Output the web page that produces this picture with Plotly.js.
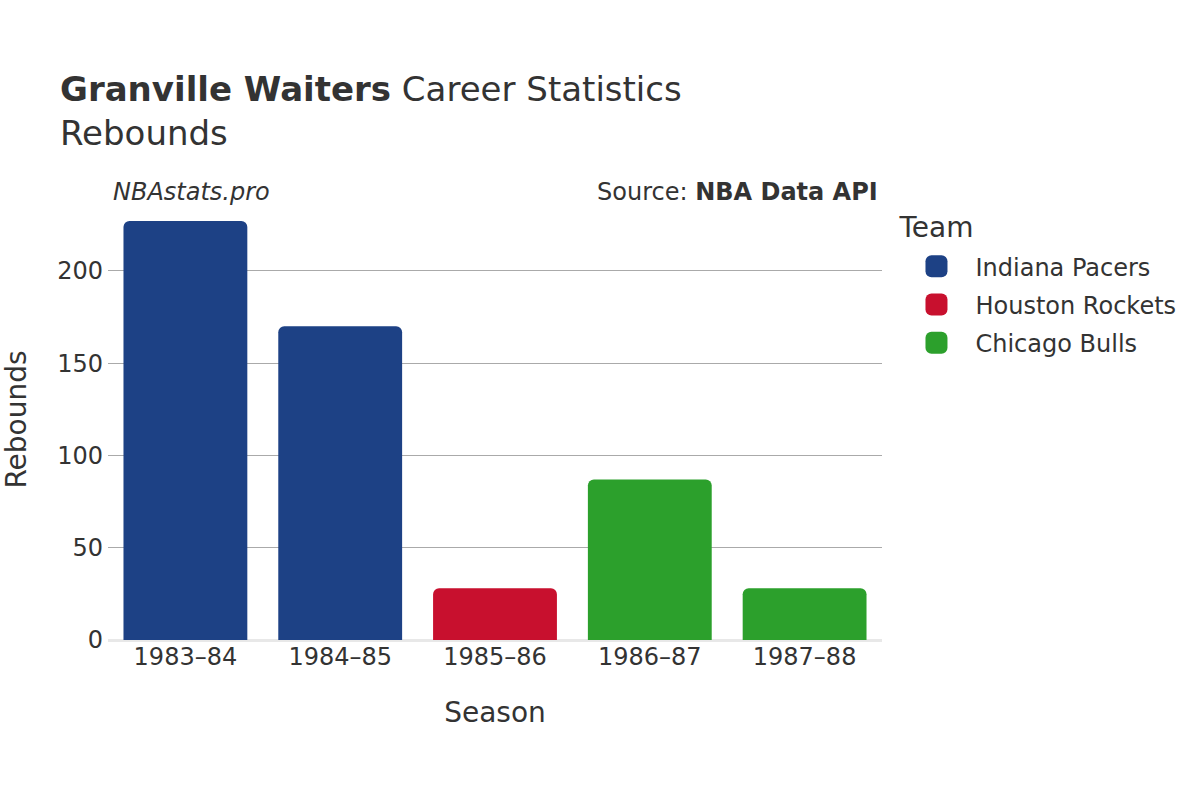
<!DOCTYPE html>
<html>
<head>
<meta charset="utf-8">
<script src="https://cdn.plot.ly/plotly-3.0.1.min.js"></script>
<style>html,body{margin:0;padding:0;background:#fff;}#chart{width:1200px;height:800px;}</style>
</head>
<body>
<div id="chart"></div>
<script>
const seasons = ['1983–84', '1984–85', '1985–86', '1986–87', '1987–88'];
const rebounds = [227, 170, 28, 87, 28];
const seasonTeams = ['Indiana Pacers', 'Indiana Pacers', 'Houston Rockets', 'Chicago Bulls', 'Chicago Bulls'];
const teamNames = ['Indiana Pacers', 'Houston Rockets', 'Chicago Bulls'];
const teamColors = ['#1d4185', '#c8102e', '#2ca02c'];

const FONT = 'DejaVu Sans, sans-serif';
const TXT = '#333333';

const traces = teamNames.map((team, i) => {
  const xs = [], ys = [];
  seasons.forEach((s, j) => { if (seasonTeams[j] === team) { xs.push(s); ys.push(rebounds[j]); } });
  return {
    type: 'bar', name: team, x: xs, y: ys, legendgroup: 'g' + i,
    marker: { color: teamColors[i], cornerradius: 6 },
    hoverinfo: 'x+y+name'
  };
});

const layout = {
  width: 1200, height: 800,
  paper_bgcolor: '#ffffff', plot_bgcolor: '#ffffff',
  font: { family: FONT, color: TXT, size: 24 },
  margin: { l: 108, r: 318, t: 199, b: 160 },
  barmode: 'relative',
  bargap: 0.2,
  title: {
    text: '<b>Granville Waiters</b> Career Statistics<br>Rebounds',
    x: 0.05, xanchor: 'left', y: 0.874, yanchor: 'top',
    font: { family: FONT, size: 34, color: TXT }
  },
  xaxis: {
    type: 'category', categoryorder: 'array', categoryarray: seasons,
    title: { text: 'Season', font: { size: 28, color: TXT }, standoff: 32 },
    tickfont: { size: 24, color: TXT },
    showgrid: false, showline: false, ticks: ''
  },
  yaxis: {
    title: { text: 'Rebounds', font: { size: 28, color: TXT }, standoff: 24 },
    tickfont: { size: 24, color: TXT },
    showgrid: true, gridcolor: '#aaaaaa', gridwidth: 1,
    zeroline: true, zerolinecolor: '#e8e8e8', zerolinewidth: 3,
    tickvals: [0, 50, 100, 150, 200], ticks: '', ticklabelstandoff: 4
  },
  legend: {
    title: { text: 'Team', font: { size: 28, color: TXT } },
    x: 1.02, xanchor: 'left', y: 0.996, yanchor: 'top',
    font: { size: 24, color: TXT },
    tracegroupgap: 4, itemwidth: 68
  },
  annotations: [
    { text: '<i>NBAstats.pro</i>', xref: 'paper', yref: 'paper', x: 0.004, y: 1, xanchor: 'left', yanchor: 'middle', yshift: 7, showarrow: false, font: { size: 24, color: TXT } },
    { text: 'Source: <b>NBA Data API</b>', xref: 'paper', yref: 'paper', x: 0.998, y: 1, xanchor: 'right', yanchor: 'middle', yshift: 7, showarrow: false, font: { size: 24, color: TXT } }
  ],
  showlegend: true
};

const gd = document.getElementById('chart');
function styleLegend() {
  gd.querySelectorAll('.legend .legendpoints path').forEach(p => {
    p.setAttribute('d', 'M11,5V-5A6,6 0 0 0 5,-11H-5A6,6 0 0 0 -11,-5V5A6,6 0 0 0 -5,11H5A6,6 0 0 0 11,5Z');
  });
  gd.querySelectorAll('.legend g.groups').forEach(g => {
    const t = g.getAttribute('transform') || '';
    if (g.dataset.shifted && g.dataset.shifted === t) return;
    const m = t.match(/translate\(\s*([-\d.e]+)[ ,]+([-\d.e]+)\s*\)/);
    const x = m ? parseFloat(m[1]) : 0;
    const y = m ? parseFloat(m[2]) : 0;
    const nt = 'translate(' + x + ',' + (y + 7) + ')';
    g.setAttribute('transform', nt);
    g.dataset.shifted = nt;
  });
}
Plotly.newPlot(gd, traces, layout, { displayModeBar: false, responsive: false }).then(() => {
  styleLegend();
  gd.on('plotly_afterplot', styleLegend);
});
</script>
</body>
</html>
